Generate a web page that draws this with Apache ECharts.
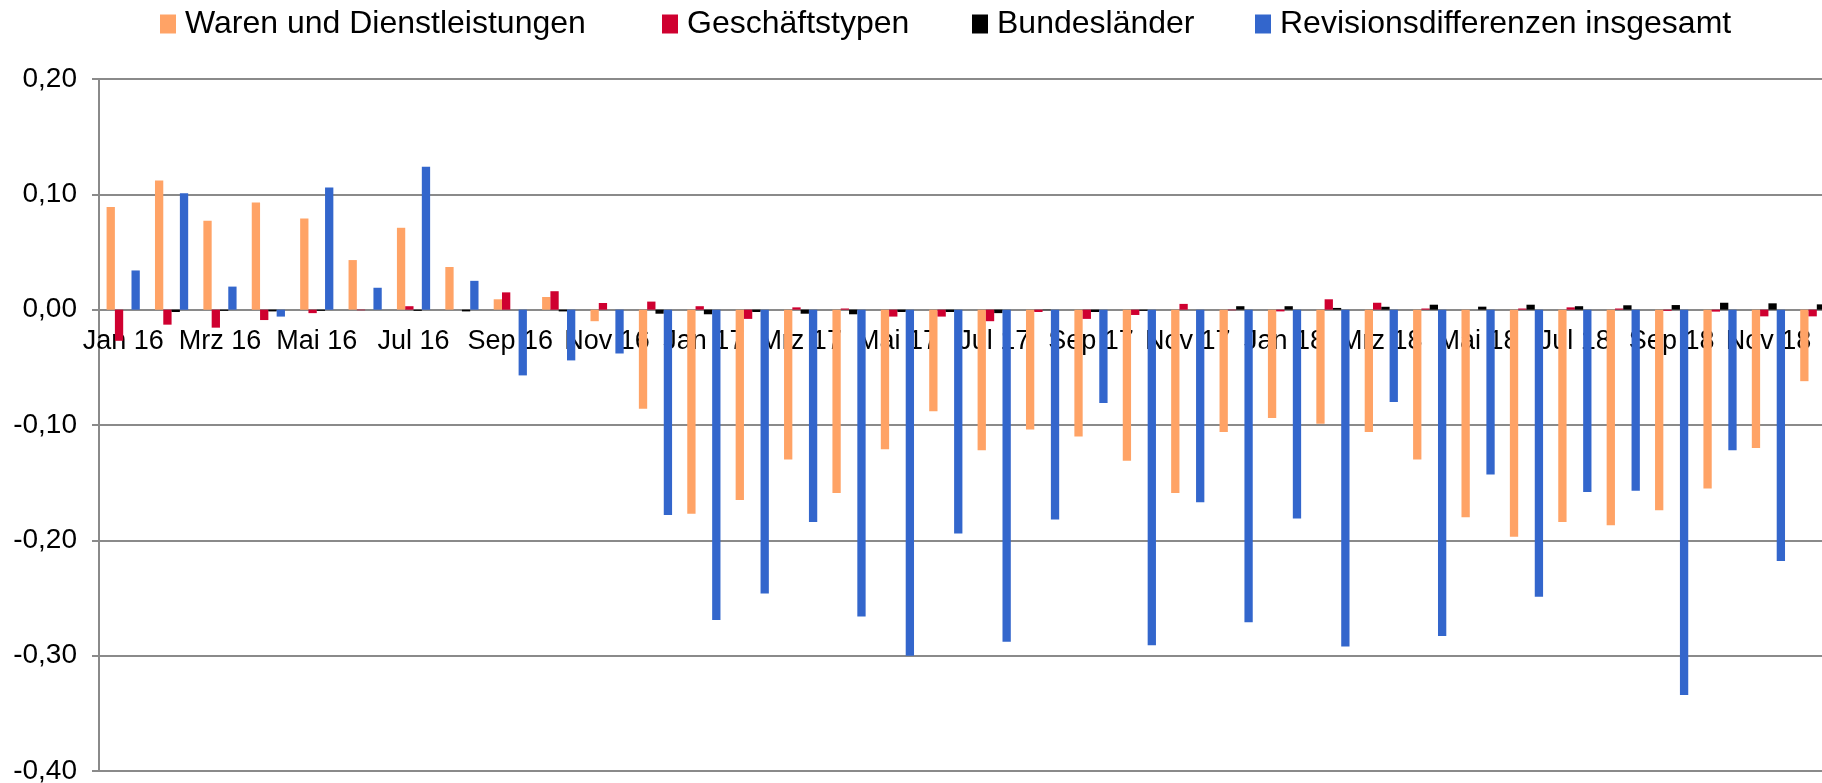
<!DOCTYPE html>
<html>
<head>
	<meta charset="UTF-8">
	<title>Revisionsdifferenzen</title>
	<style>
		html, body { margin: 0; padding: 0; background: #fff; }
		#container { width: 1822px; height: 783px; }
	</style>
</head>
<body>
	<div id="container"></div>
	<script src="https://cdn.jsdelivr.net/npm/echarts@6/dist/echarts.min.js"></script>
	<script>
		// Monate Jan 16 - Dez 18
		var months = ['Jan 16','Feb 16','Mrz 16','Apr 16','Mai 16','Jun 16','Jul 16','Aug 16','Sep 16','Okt 16','Nov 16','Dez 16',
			'Jan 17','Feb 17','Mrz 17','Apr 17','Mai 17','Jun 17','Jul 17','Aug 17','Sep 17','Okt 17','Nov 17','Dez 17',
			'Jan 18','Feb 18','Mrz 18','Apr 18','Mai 18','Jun 18','Jul 18','Aug 18','Sep 18','Okt 18','Nov 18','Dez 18'];

		var waren = [0.089, 0.112, 0.077, 0.093, 0.079, 0.043, 0.071, 0.037, 0.009, 0.011, -0.010, -0.086,
			-0.177, -0.165, -0.130, -0.159, -0.121, -0.088, -0.122, -0.104, -0.110, -0.131, -0.159, -0.106,
			-0.094, -0.099, -0.106, -0.130, -0.180, -0.197, -0.184, -0.187, -0.174, -0.155, -0.120, -0.062];

		var geschaeft = [-0.027, -0.013, -0.0156, -0.009, -0.003, -0.0005, 0.003, 0, 0.015, 0.016, 0.0058, 0.007,
			0.003, -0.008, 0.002, 0.001, -0.006, -0.006, -0.010, -0.002, -0.008, -0.0046, 0.005, -0.0005,
			-0.0015, 0.009, 0.006, 0.001, 0, 0.001, 0.002, 0.001, -0.001, -0.0017, -0.0058, -0.0058];

		var laender = [0, -0.002, -0.001, -0.0015, -0.001, 0, -0.001, -0.0015, 0, -0.0015, 0, -0.0035,
			-0.004, -0.002, -0.0035, -0.004, -0.002, -0.002, -0.003, -0.0005, -0.002, -0.001, 0, 0.003,
			0.003, 0.0015, 0.0025, 0.0043, 0.0026, 0.0043, 0.003, 0.0038, 0.004, 0.006, 0.0055, 0.0046];

		var gesamt = [0.034, 0.101, 0.020, -0.006, 0.106, 0.019, 0.124, 0.025, -0.057, -0.044, -0.038, -0.178,
			-0.269, -0.246, -0.184, -0.266, -0.300, -0.194, -0.288, -0.182, -0.081, -0.291, -0.167, -0.271,
			-0.181, -0.292, -0.080, -0.283, -0.143, -0.249, -0.158, -0.157, -0.334, -0.122, -0.218, null];

		var yMin = -0.4, yMax = 0.2;

		var font = 'Liberation Sans, Arial, sans-serif';
		var gray = '#8a8a8a';

		// Plotbereich (ragt rechts über den Bildrand hinaus, wie im Original)
		var gridLeft = 99, gridTop = 79, gridWidth = 1742, gridHeight = 692;
		// x-Achse sitzt auf der Nulllinie
		var zeroOffset = -gridHeight * (0 - yMin) / (yMax - yMin);

		function legendAt(name, left) {
			return {
				data: [name],
				left: left,
				top: 3,
				itemWidth: 16,
				itemHeight: 19,
				icon: 'rect',
				textStyle: { fontFamily: font, fontSize: 32, color: '#000', padding: [0, 0, 0, 4] }
			};
		}

		var dom = document.getElementById('container');
		var myChart = echarts.init(dom);

		var option = {
			animation: false,
			color: ['#FFA366', '#CF0030', '#000000', '#3366CC'],
			legend: [
				legendAt('Waren und Dienstleistungen', 155),
				legendAt('Geschäftstypen', 657),
				legendAt('Bundesländer', 967),
				legendAt('Revisionsdifferenzen insgesamt', 1250)
			],
			grid: {
				left: gridLeft,
				top: gridTop,
				width: gridWidth,
				height: gridHeight,
				outerBoundsMode: 'none',
				containLabel: false
			},
			xAxis: {
				type: 'category',
				data: months,
				offset: zeroOffset,
				axisLine: { onZero: false, lineStyle: { color: gray, width: 2 } },
				axisTick: { interval: 1, length: 7, lineStyle: { color: gray, width: 2 } },
				axisLabel: { interval: 1, margin: 18, color: '#000', fontFamily: font, fontSize: 27 },
				splitLine: { show: false }
			},
			yAxis: {
				type: 'value',
				min: yMin,
				max: yMax,
				interval: 0.1,
				axisLine: { show: true, lineStyle: { color: gray, width: 2 } },
				axisTick: { show: true, length: 7, lineStyle: { color: gray, width: 2 } },
				axisLabel: {
					margin: 22,
					color: '#000',
					fontFamily: font,
					fontSize: 28,
					formatter: function (v) { return v.toFixed(2).replace('.', ','); }
				},
				splitLine: { lineStyle: { color: gray, width: 2 } }
			},
			series: [
				{ name: 'Waren und Dienstleistungen', type: 'bar', data: waren, barWidth: 8.3, barGap: '0%' },
				{ name: 'Geschäftstypen', type: 'bar', data: geschaeft, barWidth: 8.3, barGap: '0%' },
				{ name: 'Bundesländer', type: 'bar', data: laender, barWidth: 8.3, barGap: '0%' },
				{ name: 'Revisionsdifferenzen insgesamt', type: 'bar', data: gesamt, barWidth: 8.3, barGap: '0%' }
			]
		};

		myChart.setOption(option, true);
	</script>
</body>
</html>
